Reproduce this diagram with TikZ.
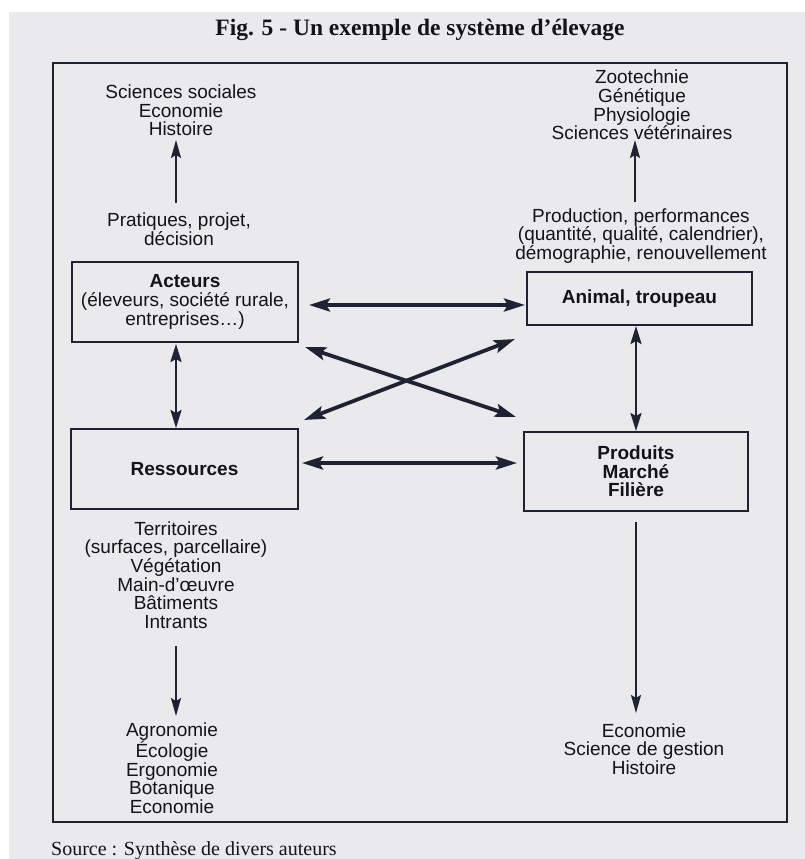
\documentclass[tikz,border=0pt]{standalone}
\usepackage{fontspec}
\setmainfont{Liberation Sans}
\newfontfamily\titleserif{Liberation Serif}
\usetikzlibrary{arrows.meta}
\definecolor{paper}{RGB}{234,234,237}
\definecolor{ink}{RGB}{30,34,50}
\definecolor{txt}{RGB}{20,20,24}
\tikzset{
  lbl/.style={align=center, inner sep=0pt, text=txt, font=\fontsize{19}{18.6}\selectfont},
  boxn/.style={draw=ink, line width=2.2pt, inner sep=0pt, align=center, text=txt,
     font=\fontsize{19}{18.6}\selectfont\bfseries},
  thin/.style={draw=ink, line width=1.9pt, -{Stealth[length=18pt,width=10pt,inset=3pt]}},
  dbl/.style={draw=ink, line width=3.8pt, {Stealth[length=21pt,width=13pt,inset=4pt]}-{Stealth[length=21pt,width=13pt,inset=4pt]}},
  dblthin/.style={draw=ink, line width=2.6pt, {Stealth[length=18pt,width=11pt,inset=3pt]}-{Stealth[length=18pt,width=11pt,inset=3pt]}}
}
\begin{document}
\begin{tikzpicture}[x=1pt,y=-1pt]
\useasboundingbox (0,0) rectangle (805,859);
\fill[white] (0,0) rectangle (805,859);
\fill[paper] (9,12) rectangle (805,859);
% title
\node[inner sep=0pt, text=txt, font=\titleserif\fontsize{23.5}{26}\selectfont\bfseries] (title) at (420,30) {Fig. 5 - Un exemple de système d’élevage};
% frame
\draw[ink, line width=2.2pt] (53,63) rectangle (787,822);
% top texts
\node[lbl] (soc) at (181,110.5) {Sciences sociales\\Economie\\Histoire};
\node[lbl] (prat) at (179,229) {Pratiques, projet,\\décision};
\node[lbl] (zoo) at (642,105) {Zootechnie\\Génétique\\Physiologie\\Sciences vétérinaires};
\node[lbl] (prod) at (641,235.7) {Production, performances\\(quantité, qualité, calendrier),\\démographie, renouvellement};
% boxes
\node[boxn, minimum width=226pt, minimum height=80pt] (act) at (185,302) {Acteurs\\\mdseries(éleveurs, société rurale,\\\mdseries entreprises…)};
\node[boxn, minimum width=225pt, minimum height=53pt] (anim) at (639.5,298.5) {Animal, troupeau};
\node[boxn, minimum width=227pt, minimum height=80pt] (res) at (184.5,469) {Ressources};
\node[boxn, minimum width=224pt, minimum height=79pt] (pmf) at (636,471.5) {Produits\\Marché\\Filière};
% bottom texts
\node[lbl] (terr) at (176,575) {Territoires\\(surfaces, parcellaire)\\Végétation\\Main-d’œuvre\\Bâtiments\\Intrants};
\node[lbl] (agro) at (172,768) {Agronomie\\Écologie\\Ergonomie\\Botanique\\Economie};
\node[lbl] (eco) at (644,749) {Economie\\Science de gestion\\Histoire};
% source
\node[anchor=west, inner sep=0pt, text=txt, font=\titleserif\fontsize{20}{22}\selectfont] (src) at (51,851) {Source : Synthèse de divers auteurs};
% connector end points
\coordinate (a1) at (176,203); \coordinate (a2) at (176,140);
\coordinate (b1) at (635,202); \coordinate (b2) at (635,140);
\coordinate (h1) at (309,305); \coordinate (h2) at (525,305);
\coordinate (h3) at (302,463); \coordinate (h4) at (517,463);
\coordinate (x1) at (305,347); \coordinate (x2) at (516,417);
\coordinate (x3) at (515,339); \coordinate (x4) at (304,420);
\coordinate (v1) at (176,344); \coordinate (v2) at (176,428);
\coordinate (v3) at (636,326); \coordinate (v4) at (636,431);
\coordinate (d1) at (176,646); \coordinate (d2) at (176,716);
\coordinate (e1) at (636,522); \coordinate (e2) at (636,713);
% connectors
\draw[thin] (a1) -- (a2);
\draw[thin] (b1) -- (b2);
\draw[dbl] (h1) -- (h2);
\draw[dbl] (h3) -- (h4);
\draw[dbl] (x1) -- (x2);
\draw[dbl] (x3) -- (x4);
\draw[dblthin] (v1) -- (v2);
\draw[dblthin] (v3) -- (v4);
\draw[thin] (d1) -- (d2);
\draw[thin] (e1) -- (e2);
\end{tikzpicture}
\end{document}
